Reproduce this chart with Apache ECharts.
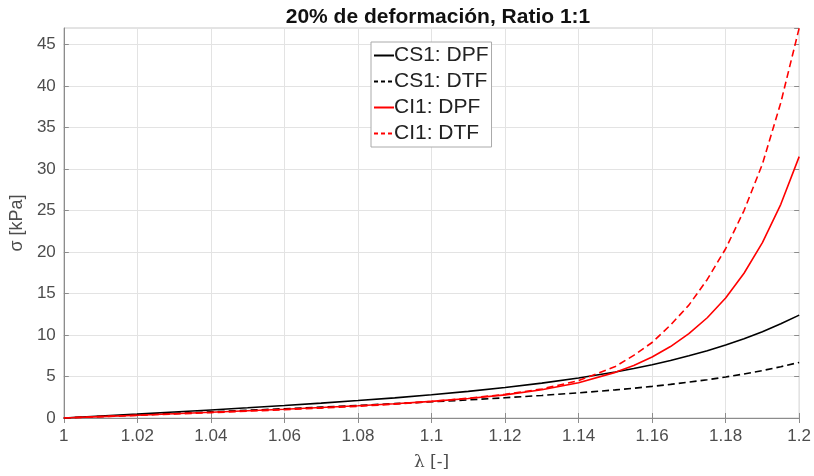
<!DOCTYPE html>
<html>
<head>
<meta charset="utf-8">
<script src="https://cdn.jsdelivr.net/npm/echarts@6/dist/echarts.min.js"></script>
<style>html,body{margin:0;padding:0;background:#fff}#c{width:814px;height:476px}</style>
</head>
<body>
<div id="c"></div>
<script>
const lambda = [1.00,1.01,1.02,1.03,1.04,1.05,1.06,1.07,1.08,1.09,1.10,1.11,1.12,1.13,1.14,1.15,1.155,1.16,1.165,1.17,1.175,1.18,1.185,1.19,1.195,1.2];
const cs1DPF = [0,0.24,0.47,0.72,0.97,1.23,1.5,1.79,2.1,2.43,2.8,3.21,3.67,4.2,4.82,5.55,5.96,6.42,6.93,7.49,8.1,8.79,9.55,10.4,11.35,12.4];
const cs1DTF = [0,0.18,0.37,0.55,0.74,0.93,1.12,1.32,1.52,1.73,1.95,2.18,2.44,2.72,3.03,3.39,3.59,3.81,4.05,4.32,4.61,4.94,5.31,5.72,6.18,6.7];
const ci1DPF = [0,0.17,0.34,0.52,0.69,0.88,1.06,1.26,1.48,1.72,2.0,2.35,2.79,3.4,4.25,5.5,6.33,7.35,8.61,10.16,12.08,14.47,17.44,21.14,25.75,31.5];
const ci1DTF = [0,0.16,0.32,0.48,0.65,0.82,1.0,1.19,1.41,1.67,2.0,2.38,2.85,3.5,4.5,6.2,7.55,9.1,11.2,13.6,16.7,20.4,25.0,30.6,38.0,47.0];
const seriesNames = ['CS1: DPF','CS1: DTF','CI1: DPF','CI1: DTF'];
const titleText = '20% de deformación, Ratio 1:1';
const xName = 'λ [-]';
const yName = 'σ [kPa]';

function pairs(ys){ return lambda.map((x,i)=>[x,ys[i]]); }
const font = 'Liberation Sans, Arial, Helvetica, sans-serif';
const chart = echarts.init(document.getElementById('c'), null, {renderer:'canvas'});
const axisGray = '#8c8c8c';
const labelGray = '#4d4d4d';
const gridGray = '#e3e3e3';
const dashedNames = [seriesNames[1], seriesNames[3]];
function mkSeries(name, data, color, dashed){
  return {name, type:'line', data:pairs(data), symbol:'none', smooth:false,
    lineStyle:{color, width:1.6, type: dashed ? [7,4] : 'solid'}, itemStyle:{color}, z: 3};
}
chart.setOption({
  backgroundColor:'#fff',
  animation:false,
  title:{text:titleText, left:433, textAlign:'center', top:2,
    textStyle:{fontFamily:font, fontSize:21, fontWeight:'bold', color:'#111'}},
  grid:{left:61, right:13, top:28, bottom:57, show:true, borderColor:'#c8c8c8', borderWidth:1},
  legend:{orient:'vertical', left:371, top:42,
    data:seriesNames.map(n => dashedNames.includes(n) ? {name:n, lineStyle:{type:[4,3]}} : {name:n}),
    itemWidth:20, itemHeight:14, itemGap:5,
    itemStyle:{opacity:0},
    backgroundColor:'#fff', borderColor:'#aaaaaa', borderWidth:1, padding:[3,3,3,2],
    textStyle:{fontFamily:font, fontSize:21, color:'#222', padding:[0,0,0,-5]}},
  xAxis:[{type:'value', min:1, max:1.2, interval:0.02, name:xName, nameLocation:'middle', nameGap:36,
    nameTextStyle:{fontFamily:'DejaVu Serif, serif', fontSize:17, color:labelGray},
    axisLine:{show:true, lineStyle:{color:axisGray}}, axisTick:{show:true, inside:true, length:5, lineStyle:{color:axisGray}},
    axisLabel:{fontFamily:font, fontSize:17, color:labelGray, margin:10, formatter:v=>String(parseFloat(v.toFixed(2)))},
    splitLine:{show:true, lineStyle:{color:gridGray}}},
    {type:'value', position:'top', min:1, max:1.2, interval:0.02, axisLine:{show:false},
    axisTick:{show:true, inside:true, length:5, lineStyle:{color:axisGray}}, axisLabel:{show:false}, splitLine:{show:false}}],
  yAxis:[{type:'value', min:0, max:47, interval:5, name:yName, nameLocation:'middle', nameGap:31,
    nameTextStyle:{fontFamily:font, fontSize:18, color:labelGray},
    axisLine:{show:true, lineStyle:{color:axisGray}}, axisTick:{show:true, inside:true, length:5, lineStyle:{color:axisGray}},
    axisLabel:{fontFamily:font, fontSize:17, color:labelGray, margin:8, showMaxLabel:false},
    splitLine:{show:true, lineStyle:{color:gridGray}}},
    {type:'value', position:'right', min:0, max:47, interval:5, axisLine:{show:false},
    axisTick:{show:true, inside:true, length:5, lineStyle:{color:axisGray}}, axisLabel:{show:false}, splitLine:{show:false}}],
  series:[
    mkSeries(seriesNames[0], cs1DPF, '#000000', false),
    mkSeries(seriesNames[1], cs1DTF, '#000000', true),
    mkSeries(seriesNames[2], ci1DPF, '#ff0000', false),
    mkSeries(seriesNames[3], ci1DTF, '#ff0000', true)
  ]
});
</script>
</body>
</html>
